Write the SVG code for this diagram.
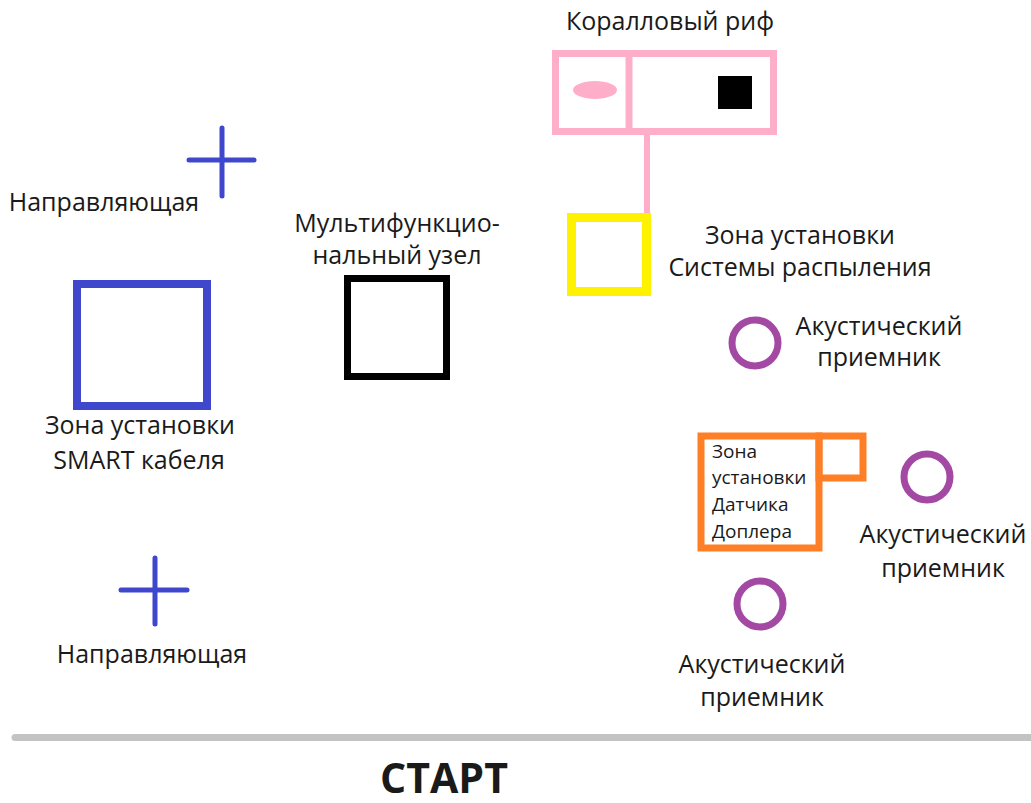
<svg xmlns="http://www.w3.org/2000/svg" width="1031" height="803" viewBox="0 0 1031 803">
<style>
text{font-family:"Open Sans","Liberation Sans",sans-serif;fill:#1a1a1a;}
.lbl{font-size:25px;text-anchor:middle;}
.small{font-size:19px;}
.blue{stroke:#3f48cc;fill:none;stroke-linecap:round;}
.purple{stroke:#a349a4;stroke-width:7;fill:none;}
.orange{stroke:#ff7f27;stroke-width:7;fill:none;}
</style>
<rect width="1031" height="803" fill="#ffffff"/>
<g id="connectors">
<line x1="647" y1="134" x2="647" y2="214" stroke="#ffaec9" stroke-width="6"/>
<line x1="15" y1="737.5" x2="1031" y2="737.5" stroke="#c3c3c3" stroke-width="7" stroke-linecap="round"/>
</g>
<g id="coral-reef">
<rect x="555.5" y="53.5" width="218" height="78" fill="none" stroke="#ffaec9" stroke-width="7"/>
<line x1="629" y1="53.5" x2="629" y2="131.5" stroke="#ffaec9" stroke-width="7"/>
<ellipse cx="595" cy="90" rx="22" ry="9" fill="#ffaec9"/>
<rect x="718" y="76" width="34" height="33" fill="#000000"/>
<text class="lbl" x="670" y="30">Коралловый риф</text>
</g>
<g id="spray-zone">
<rect x="571.5" y="217.5" width="75" height="74" fill="none" stroke="#fff200" stroke-width="9"/>
<text class="lbl" x="800" y="244">Зона установки</text>
<text class="lbl" x="800" y="276">Системы распыления</text>
</g>
<g id="guide-top">
<line class="blue" x1="222" y1="128" x2="222" y2="196" stroke-width="5"/>
<line class="blue" x1="189" y1="160" x2="254" y2="160" stroke-width="5"/>
<text class="lbl" x="104" y="211">Направляющая</text>
</g>
<g id="smart-cable">
<rect class="blue" x="77" y="284" width="130" height="122" stroke-width="8" stroke-linecap="butt"/>
<text class="lbl" x="140" y="434">Зона установки</text>
<text class="lbl" x="139" y="469">SMART кабеля</text>
</g>
<g id="multi-node">
<rect x="347.5" y="278.5" width="99" height="98" fill="none" stroke="#000000" stroke-width="7"/>
<text class="lbl" x="397" y="232">Мультифункцио-</text>
<text class="lbl" x="397" y="264">нальный узел</text>
</g>
<g id="receiver-1">
<circle class="purple" cx="755" cy="343" r="23"/>
<text class="lbl" x="879" y="335">Акустический</text>
<text class="lbl" x="879" y="366">приемник</text>
</g>
<g id="doppler">
<rect class="orange" x="701" y="436" width="118" height="112"/>
<rect class="orange" x="819" y="436" width="44" height="42"/>
<text class="small" x="712" y="458">Зона</text>
<text class="small" x="712" y="484">установки</text>
<text class="small" x="712" y="511">Датчика</text>
<text class="small" x="712" y="538">Доплера</text>
</g>
<g id="receiver-2">
<circle class="purple" cx="927" cy="477" r="23"/>
<text class="lbl" x="943" y="543">Акустический</text>
<text class="lbl" x="943" y="577">приемник</text>
</g>
<g id="receiver-3">
<circle class="purple" cx="760" cy="604" r="23"/>
<text class="lbl" x="762" y="673">Акустический</text>
<text class="lbl" x="762" y="706">приемник</text>
</g>
<g id="guide-bottom">
<line class="blue" x1="155" y1="558" x2="155" y2="624" stroke-width="5"/>
<line class="blue" x1="121" y1="590" x2="187" y2="590" stroke-width="5"/>
<text class="lbl" x="152" y="663">Направляющая</text>
</g>
<g id="start">
<text x="444" y="793" text-anchor="middle" font-family="Liberation Sans, sans-serif" font-weight="bold" font-size="42" textLength="128" lengthAdjust="spacingAndGlyphs" fill="#000000">СТАРТ</text>
</g>
</svg>
